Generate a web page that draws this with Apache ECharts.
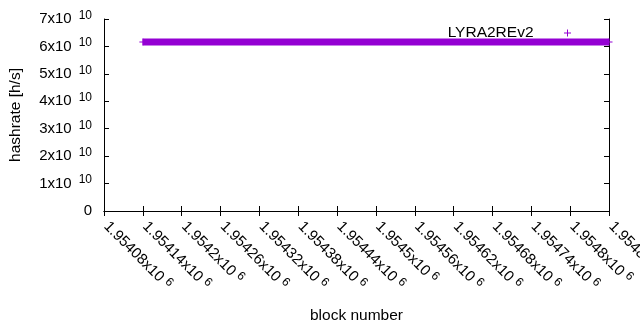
<!DOCTYPE html>
<html>
<head>
<meta charset="utf-8">
<script src="https://cdn.jsdelivr.net/npm/echarts@6/dist/echarts.min.js"></script>
<style>html,body{margin:0;padding:0;background:#fff;}#c{width:640px;height:330px;}</style>
</head>
<body>
<div id="c"></div>
<script>
// Data
var seriesName = 'LYRA2REv2';
var blocks = [1954140, 1954860];
var hashrate = [6.16e10, 6.16e10];
// Tick labels
var xTickMantissa = ['1.95408','1.95414','1.9542','1.95426','1.95432','1.95438','1.95444','1.9545','1.95456','1.95462','1.95468','1.95474','1.9548','1.95486'];
var xTickExp = '6';
var yTickMantissa = ['0','1','2','3','4','5','6','7'];
var yTickExp = '10';

var xMin = 1954080, xMax = 1954860, xInt = 60;
var yMin = 0, yMax = 7e10, yInt = 1e10;
var color = '#9400d3';
var FONT = 'Liberation Sans, Arial, sans-serif';
var plusPath = 'path://M3,0H4V3H7V4H4V7H3V4H0V3H3Z';

var chart = echarts.init(document.getElementById('c'), null, {renderer: 'canvas'});
var tickStyle = {show: true, inside: true, length: 5, lineStyle: {color: '#000', width: 1}};
var axisLineStyle = {show: true, lineStyle: {color: '#000', width: 1}};

var option = {
  animation: false,
  backgroundColor: '#fff',
  textStyle: {fontFamily: FONT},
  grid: {left: 104, right: 31, top: 19, bottom: 119, show: false, containLabel: false, outerBoundsMode: 'none'},
  legend: {
    show: true,
    right: 64,
    top: 20,
    align: 'right',
    itemWidth: 58,
    itemHeight: 7,
    icon: plusPath,
    textStyle: {fontFamily: FONT, fontSize: 15.5, color: '#000'},
    data: [{name: seriesName, icon: plusPath, itemStyle: {color: color}}]
  },
  xAxis: [{
    type: 'value', min: xMin, max: xMax, interval: xInt, position: 'bottom',
    axisLine: axisLineStyle, axisTick: tickStyle, splitLine: {show: false},
    name: 'block number', nameLocation: 'middle', nameGap: 97,
    nameTextStyle: {fontFamily: FONT, fontSize: 15.5, color: '#000'},
    axisLabel: {
      rotate: -45, margin: 11, padding: [0, 0, 0, 3], color: '#000', fontFamily: FONT, hideOverlap: false,
      formatter: function (v) {
        var i = Math.round((v - xMin) / xInt);
        return '{m|' + xTickMantissa[i] + 'x10}{s|' + xTickExp + '}';
      },
      rich: {
        m: {fontSize: 15, fontFamily: FONT, color: '#000'},
        s: {fontSize: 12, fontFamily: FONT, color: '#000', padding: [0, 0, 7, 4]}
      }
    }
  }, {
    type: 'value', min: xMin, max: xMax, interval: xInt, position: 'top',
    axisLine: axisLineStyle, axisTick: tickStyle, axisLabel: {show: false}, splitLine: {show: false}
  }],
  yAxis: [{
    type: 'value', min: yMin, max: yMax, interval: yInt, position: 'left',
    axisLine: axisLineStyle, axisTick: tickStyle, splitLine: {show: false},
    name: 'hashrate [h/s]', nameLocation: 'middle', nameGap: 80,
    nameTextStyle: {fontFamily: FONT, fontSize: 15.5, color: '#000'},
    axisLabel: {
      margin: 12, color: '#000', fontFamily: FONT,
      formatter: function (v) {
        var i = Math.round(v / yInt);
        if (i === 0) return '{z|' + yTickMantissa[0] + '}';
        return '{m|' + yTickMantissa[i] + 'x10}{s|' + yTickExp + '}';
      },
      rich: {
        z: {fontSize: 15, fontFamily: FONT, color: '#000'},
        m: {fontSize: 15, fontFamily: FONT, color: '#000'},
        s: {fontSize: 12, fontFamily: FONT, color: '#000', padding: [0, 0, 7, 7]}
      }
    }
  }, {
    type: 'value', min: yMin, max: yMax, interval: yInt, position: 'right',
    axisLine: axisLineStyle, axisTick: tickStyle, axisLabel: {show: false}, splitLine: {show: false}
  }],
  series: [{
    name: seriesName,
    type: 'line',
    xAxisIndex: 0, yAxisIndex: 0,
    data: blocks.map(function (b, i) { return [b, hashrate[i]]; }),
    lineStyle: {color: color, width: 7, cap: 'butt'},
    itemStyle: {color: color},
    symbol: plusPath,
    symbolSize: 7,
    showSymbol: true,
    clip: false,
    emphasis: {disabled: true}
  }]
};
chart.setOption(option);
</script>
</body>
</html>
